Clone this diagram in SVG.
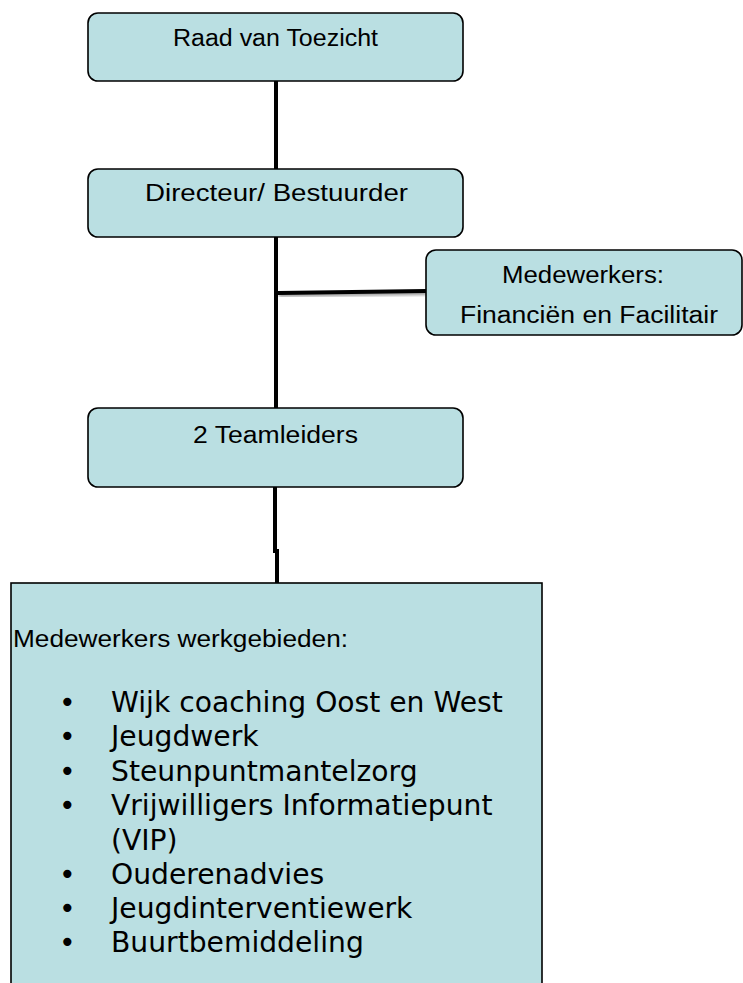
<svg xmlns="http://www.w3.org/2000/svg" width="743" height="983" viewBox="0 0 743 983">
<defs>
<style>
.box{fill:#badfe2;stroke:#000;stroke-width:1.6}
.lbl{font-family:"Liberation Sans",Arial,sans-serif;font-size:23px;fill:#000}
.lst{font-family:"DejaVu Sans",Verdana,sans-serif;font-size:28.2px;fill:#000}
.con{stroke:#000;stroke-width:4;fill:none}
</style>
<filter id="sh" x="-10%" y="-100%" width="120%" height="400%">
<feGaussianBlur in="SourceAlpha" stdDeviation="1.5"/>
<feOffset dx="1" dy="2" result="b"/>
<feComponentTransfer><feFuncA type="linear" slope="0.4"/></feComponentTransfer>
<feMerge><feMergeNode/><feMergeNode in="SourceGraphic"/></feMerge>
</filter>
</defs>
<g id="connectors">
<line class="con" x1="276" y1="81" x2="276" y2="169"/>
<line class="con" x1="276" y1="237" x2="276" y2="408"/>
<line class="con" x1="278" y1="293" x2="426" y2="291" filter="url(#sh)"/>
<polyline class="con" points="275,487 275,551 277,551 277,583"/>
</g>
<g id="raad">
<rect class="box" x="88" y="13" width="375" height="68" rx="10"/>
<text class="lbl" x="173" y="46" textLength="205" lengthAdjust="spacingAndGlyphs">Raad van Toezicht</text>
</g>
<g id="directeur">
<rect class="box" x="88" y="169" width="375" height="68" rx="10"/>
<text class="lbl" x="145" y="201" textLength="263" lengthAdjust="spacingAndGlyphs">Directeur/ Bestuurder</text>
</g>
<g id="financien">
<rect class="box" x="426" y="250" width="316" height="85" rx="10"/>
<text class="lbl" x="502" y="283" textLength="162" lengthAdjust="spacingAndGlyphs">Medewerkers:</text>
<text class="lbl" x="460" y="323" textLength="258" lengthAdjust="spacingAndGlyphs">Financiën en Facilitair</text>
</g>
<g id="teamleiders">
<rect class="box" x="88" y="408" width="375" height="79" rx="10"/>
<text class="lbl" x="193" y="443" textLength="165" lengthAdjust="spacingAndGlyphs">2 Teamleiders</text>
</g>
<g id="werkgebieden">
<rect class="box" x="11" y="583" width="531" height="410"/>
<text class="lbl" x="13" y="647" textLength="335" lengthAdjust="spacingAndGlyphs">Medewerkers werkgebieden:</text>
<g class="lst">
<text x="59" y="712">•</text><text x="111" y="712">Wijk coaching Oost en West</text>
<text x="59" y="746">•</text><text x="111" y="746">Jeugdwerk</text>
<text x="59" y="781">•</text><text x="111" y="781">Steunpuntmantelzorg</text>
<text x="59" y="815">•</text><text x="111" y="815">Vrijwilligers Informatiepunt</text>
<text x="111" y="850">(VIP)</text>
<text x="59" y="884">•</text><text x="111" y="884">Ouderenadvies</text>
<text x="59" y="918">•</text><text x="111" y="918">Jeugdinterventiewerk</text>
<text x="59" y="952">•</text><text x="111" y="952">Buurtbemiddeling</text>
</g>
</g>
</svg>
